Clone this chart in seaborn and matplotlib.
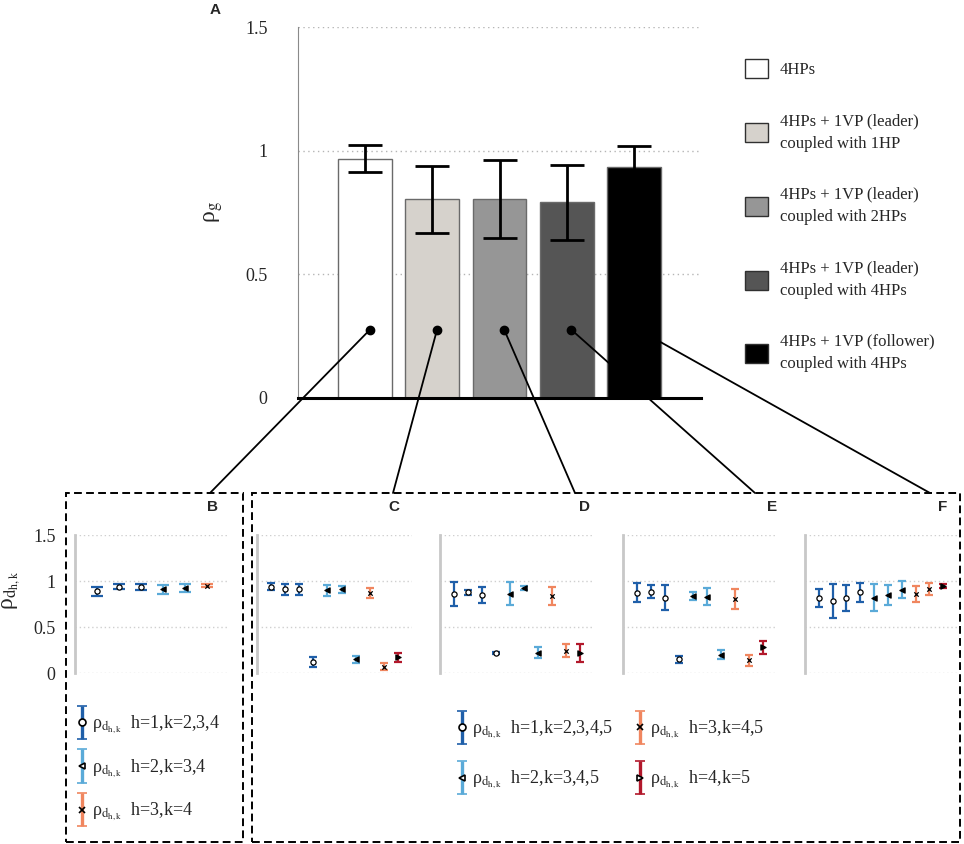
import numpy as np
import pandas as pd
import matplotlib
matplotlib.use("Agg")
import matplotlib.pyplot as plt
import seaborn as sns
from matplotlib.patches import Patch, Rectangle, ConnectionPatch
from matplotlib.legend_handler import HandlerErrorbar
from matplotlib.container import ErrorbarContainer

# ---------------- data ----------------
conditions = ["4HPs",
              "4HPs + 1VP (leader)\ncoupled with 1HP",
              "4HPs + 1VP (leader)\ncoupled with 2HPs",
              "4HPs + 1VP (leader)\ncoupled with 4HPs",
              "4HPs + 1VP (follower)\ncoupled with 4HPs"]
rho_g_mean = [0.968, 0.803, 0.805, 0.791, 0.933]
rho_g_err = [0.055, 0.135, 0.157, 0.152, 0.087]
bar_colors = ["#ffffff", "#d6d2cc", "#969696", "#555555", "#000000"]

groups_B = [1, 1, 1, 2, 2, 3]
groups_CF = [1, 1, 1, 1, 2, 2, 2, 3, 3, 4]

rho_d_B = [0.89, 0.94, 0.935, 0.91, 0.927, 0.95]
err_d_B = [0.05, 0.025, 0.03, 0.048, 0.043, 0.02]
rho_d_C = [0.94, 0.91, 0.91, 0.12, 0.90, 0.91, 0.15, 0.87, 0.07, 0.17]
err_d_C = [0.038, 0.06, 0.058, 0.05, 0.058, 0.04, 0.04, 0.054, 0.04, 0.05]
rho_d_D = [0.855, 0.877, 0.845, 0.22, 0.862, 0.927, 0.22, 0.837, 0.24, 0.22]
err_d_D = [0.13, 0.027, 0.085, 0.01, 0.123, 0.022, 0.06, 0.10, 0.07, 0.10]
rho_d_E = [0.873, 0.884, 0.818, 0.15, 0.833, 0.83, 0.20, 0.804, 0.14, 0.28]
err_d_E = [0.10, 0.072, 0.138, 0.04, 0.044, 0.096, 0.05, 0.11, 0.06, 0.07]
rho_d_F = [0.819, 0.783, 0.815, 0.877, 0.819, 0.848, 0.906, 0.859, 0.91, 0.946]
err_d_F = [0.098, 0.18, 0.138, 0.103, 0.148, 0.105, 0.096, 0.091, 0.063, 0.017]

RHO_D = r"ρ$_{\mathrm{d}_{\mathrm{h,k}}}$"
legend_B = [RHO_D + "  h=1,k=2,3,4", RHO_D + "  h=2,k=3,4", RHO_D + "  h=3,k=4"]
legend_CF = [RHO_D + "  h=1,k=2,3,4,5", RHO_D + "  h=2,k=3,4,5",
             RHO_D + "  h=3,k=4,5", RHO_D + "  h=4,k=5"]
panel_letters = ["B", "C", "D", "E", "F"]

# ---------------- styles ----------------
group_colors = {1: "#1f5fa9", 2: "#5aaad8", 3: "#f0865f", 4: "#b2182b"}
group_markers = {1: "o", 2: "<", 3: "x", 4: ">"}
group_mfc = {1: "white", 2: "black", 3: "black", 4: "black"}

sns.set_theme(style="white")
plt.rcParams["font.family"] = ["Liberation Serif", "DejaVu Sans"]
plt.rcParams["mathtext.fontset"] = "stix"

W, H = 964, 844
fig = plt.figure(figsize=(W / 100, H / 100), dpi=100)
fig.patch.set_facecolor("white")


def px_rect(x0, y0, x1, y1):
    return [x0 / W, 1 - y1 / H, (x1 - x0) / W, (y1 - y0) / H]


def fpt(x, y):
    return (x / W, 1 - y / H)


# ---------------- panel A ----------------
axA = fig.add_axes(px_rect(298, 27, 701, 398))
dfA = pd.DataFrame({"cond": conditions, "rho": rho_g_mean})
sns.barplot(data=dfA, x="cond", y="rho", hue="cond", palette=bar_colors,
            errorbar=None, width=0.8, edgecolor="#6a6a6a", linewidth=1.0,
            saturation=1, legend=False, ax=axA)
axA.errorbar(np.arange(len(conditions)), rho_g_mean, yerr=rho_g_err, fmt="none",
             ecolor="black", elinewidth=2, capsize=12, capthick=2, zorder=4)
axA.set_xlim(-1, 5)
axA.set_ylim(0, 1.5)
axA.set_yticks([0, 0.5, 1, 1.5])
axA.set_yticklabels(["0", "0.5", "1", "1.5"])
axA.set_xticks([])
axA.set_xlabel("")
axA.set_ylabel(r"ρ$_{\mathrm{g}}$", fontsize=17, rotation=90)
axA.yaxis.set_label_coords(-0.18, 0.5)
axA.tick_params(axis="y", length=0, pad=22, labelsize=13)
axA.set_axisbelow(True)
axA.yaxis.grid(True, ls=(0, (1, 2.5)), color="#b5b5b5", lw=1)
for s in ["top", "right"]:
    axA.spines[s].set_visible(False)
axA.spines["left"].set_color("#8a8a8a")
axA.spines["left"].set_linewidth(0.8)
axA.spines["bottom"].set_color("black")
axA.spines["bottom"].set_linewidth(2.2)

# link dots + connectors
link_x = np.arange(len(conditions)) + 0.07
link_y = 0.276
axA.plot(link_x, [link_y] * len(link_x), "o", color="black", ms=6, zorder=6)
targets = [(210, 493), (393, 493), (575, 493), (755, 493), (930, 493)]
for lx, (tx, ty) in zip(link_x, targets):
    con = ConnectionPatch(xyA=(lx, link_y), coordsA=axA.transData,
                          xyB=fpt(tx, ty), coordsB=fig.transFigure,
                          color="black", lw=1.3, zorder=5)
    fig.add_artist(con)

# legend A
handlesA = [Patch(facecolor=c, edgecolor="#303030", linewidth=1) for c in bar_colors]
legA = fig.legend(handlesA, conditions, loc="upper left", bbox_to_anchor=fpt(745, 59),
                  frameon=False, fontsize=12, handlelength=1.38, handleheight=1.38,
                  handletextpad=0.7, labelspacing=2.1, borderpad=0, borderaxespad=0)
for t in legA.get_texts():
    t.set_linespacing(1.55)

# ---------------- dashed boxes ----------------
for (x0, y0, x1, y1) in [(66, 493, 243, 842), (252, 493, 960, 842)]:
    fig.add_artist(Rectangle(fpt(x0, y1), (x1 - x0) / W, (y1 - y0) / H,
                             transform=fig.transFigure, fill=False, ls=(0, (4, 2.2)),
                             lw=1.4, ec="black", zorder=2))

# ---------------- bottom panels ----------------
panels = [(rho_d_B, err_d_B, groups_B), (rho_d_C, err_d_C, groups_CF),
          (rho_d_D, err_d_D, groups_CF), (rho_d_E, err_d_E, groups_CF),
          (rho_d_F, err_d_F, groups_CF)]
x_ranges = [(75, 229), (257, 412), (440, 594), (623, 777), (805, 957)]
letter_x = [212, 394, 584, 772, 943]
axes_bottom = []
for i, ((vals, errs, grps), (x0, x1)) in enumerate(zip(panels, x_ranges)):
    ax = fig.add_axes(px_rect(x0, 535, x1, 673))
    n = len(vals)
    df = pd.DataFrame({"pos": np.arange(1, n + 1), "val": vals, "err": errs, "grp": grps})
    for g, sub in df.groupby("grp"):
        ax.errorbar(sub["pos"], sub["val"], yerr=sub["err"], fmt="none",
                    ecolor=group_colors[g], elinewidth=1.6,
                    capsize=4 if i == 0 else 3, capthick=1.6, zorder=3)
        sns.scatterplot(data=sub, x="pos", y="val", marker=group_markers[g],
                        color=group_mfc[g], edgecolor="black", linewidth=0.9,
                        s=14 if g != 3 else 10, ax=ax, zorder=4, legend=False)
    ax.set_xlim(0, n + 1)
    ax.set_ylim(0, 1.5)
    ax.set_yticks([0, 0.5, 1, 1.5])
    ax.set_xticks([])
    ax.set_xlabel("")
    ax.set_ylabel("")
    ax.set_axisbelow(True)
    ax.yaxis.grid(True, ls=(0, (1, 2)), color="#cfcfcf", lw=1)
    for s in ["top", "right", "bottom"]:
        ax.spines[s].set_visible(False)
    ax.spines["left"].set_color("#c8c8c8")
    ax.spines["left"].set_linewidth(2)
    if i == 0:
        ax.set_yticklabels(["0", "0.5", "1", "1.5"])
        ax.tick_params(axis="y", length=0, pad=14, labelsize=13)
        ax.set_ylabel(RHO_D, fontsize=17)
        ax.yaxis.set_label_coords(-0.335, 0.6)
    else:
        ax.set_yticklabels([])
        ax.tick_params(axis="y", length=0)
    axes_bottom.append(ax)
    fig.text(*fpt(letter_x[i], 507), panel_letters[i], family="Liberation Sans",
             weight="bold", fontsize=11, ha="center", va="center")

fig.text(*fpt(215, 10), "A", family="Liberation Sans", weight="bold",
         fontsize=11, ha="center", va="center")


# ---------------- bottom legends (proxy errorbar handles) ----------------
def proxy(ax, g, capsize):
    eb = ax.errorbar([np.nan], [np.nan], yerr=[0.1], fmt=group_markers[g],
                     color=group_colors[g], mfc="white" if g != 3 else "black",
                     mec="black", mew=1.2, ms=5, elinewidth=2.4,
                     capsize=capsize, capthick=2.4)
    return eb


hB = [proxy(axes_bottom[0], g, 3.5) for g in [1, 2, 3]]
hCF = [proxy(axes_bottom[1], g, 3.5) for g in [1, 2, 3, 4]]
hm = {ErrorbarContainer: HandlerErrorbar(xerr_size=0.5, yerr_size=0.92)}
fig.legend(hB, legend_B, loc="upper left", bbox_to_anchor=fpt(77, 714),
           frameon=False, fontsize=13, handlelength=0.6, handletextpad=0.25,
           labelspacing=1.2, borderpad=0, borderaxespad=0, handler_map=hm)
fig.legend(hCF, legend_CF, loc="upper left", bbox_to_anchor=fpt(457, 719),
           ncol=2, frameon=False, fontsize=13, handlelength=0.6, handletextpad=0.25,
           labelspacing=1.57, columnspacing=1.2, borderpad=0, borderaxespad=0,
           handler_map=hm)

fig.savefig("out.png", dpi=100, facecolor="white")
